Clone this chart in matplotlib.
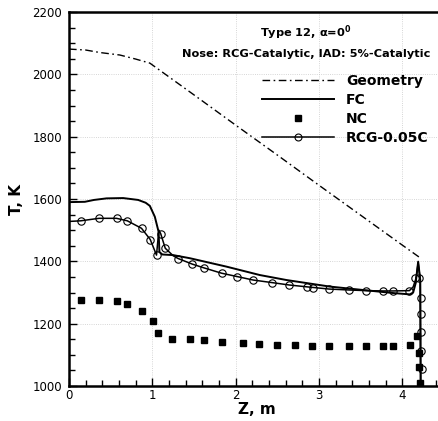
import matplotlib
matplotlib.use("Agg")
import matplotlib.pyplot as plt
from matplotlib.ticker import MultipleLocator
from matplotlib.lines import Line2D

# ---------------- data ----------------
geom_z = [0.0, 0.2, 0.37, 0.61, 0.8, 0.97, 1.5, 2.0, 2.5, 3.0, 3.5, 4.0, 4.21]
geom_T = [2081, 2078, 2070, 2062, 2049, 2036, 1934, 1837, 1741, 1644, 1548, 1452, 1412]

fc_z = [0.0, 0.19, 0.3, 0.45, 0.65, 0.83, 0.92, 0.97, 1.03, 1.06, 1.075, 1.085,
        1.12, 1.25, 1.45, 1.89, 2.29, 2.61, 3.13, 3.53, 3.9, 4.09, 4.13, 4.16,
        4.19, 4.215, 4.22]
fc_T = [1590, 1591, 1597, 1602, 1603, 1597, 1588, 1578, 1543, 1511, 1495, 1430,
        1422, 1420, 1410, 1383, 1356, 1340, 1319, 1308, 1298, 1294, 1300, 1330,
        1399, 1340, 1000]

nc_z = [0.14, 0.36, 0.57, 0.70, 0.87, 1.01, 1.07, 1.24, 1.45, 1.62, 1.83, 2.09,
        2.28, 2.49, 2.71, 2.92, 3.125, 3.365, 3.57, 3.77, 3.89, 4.09, 4.17, 4.2,
        4.2, 4.21]
nc_T = [1276, 1276, 1274, 1263, 1242, 1210, 1170, 1152, 1152, 1149, 1141, 1138,
        1135, 1132, 1132, 1128, 1128, 1128, 1128, 1128, 1128, 1132, 1160, 1107,
        1062, 1011]

rcg_line_z = [0.0, 0.14, 0.36, 0.57, 0.70, 0.87, 0.975, 1.05, 1.078, 1.10, 1.155,
              1.25, 1.31, 1.48, 1.62, 1.83, 2.02, 2.21, 2.43, 2.645, 2.86, 3.125,
              3.365, 3.57, 3.77, 3.89, 4.085, 4.13, 4.165, 4.19, 4.215, 4.22]
rcg_line_T = [1528, 1530, 1538, 1538, 1530, 1506, 1470, 1420, 1500, 1489, 1442,
              1418, 1409, 1391, 1379, 1362, 1351, 1340, 1332, 1324, 1318, 1311,
              1308, 1306, 1305, 1305, 1306, 1318, 1346, 1395, 1340, 1000]

rcg_mark_z = [0.14, 0.36, 0.57, 0.70, 0.87, 0.975, 1.05, 1.10, 1.155, 1.31, 1.48,
              1.62, 1.83, 2.02, 2.21, 2.43, 2.645, 2.86, 2.93, 3.125, 3.365, 3.57,
              3.77, 3.89, 4.085, 4.15, 4.20, 4.22, 4.22, 4.225, 4.225, 4.23]
rcg_mark_T = [1530, 1538, 1538, 1530, 1506, 1470, 1420, 1489, 1442, 1409, 1391,
              1379, 1362, 1351, 1340, 1332, 1324, 1318, 1316, 1311, 1308, 1306,
              1305, 1305, 1306, 1346, 1346, 1281, 1231, 1172, 1113, 1053]

x_ticks = [0, 1, 2, 3, 4]
y_ticks = [1000, 1200, 1400, 1600, 1800, 2000, 2200]
labels = ["Geometry", "FC", "NC", "RCG-0.05C"]

# ---------------- figure ----------------
W, H = 439, 421
fig = plt.figure(figsize=(W / 100, H / 100), dpi=100)
ax = fig.add_axes([69 / W, 35 / H, 375 / W, 374 / H])

geo_ls = (0, (5.5, 2.5, 1.2, 2.5))
ax.plot(geom_z, geom_T, color="black", lw=1.0, ls=geo_ls)
ax.plot(fc_z, fc_T, color="black", lw=1.4)
ax.plot(nc_z, nc_T, ls="none", marker="s", ms=4.4, color="black")
ax.plot(rcg_line_z, rcg_line_T, color="black", lw=1.1)
ax.plot(rcg_mark_z, rcg_mark_T, ls="none", marker="o", ms=5.3, mfc="none",
        mec="black", mew=0.8)

ax.set_xlim(0, 4.5)
ax.set_ylim(1000, 2200)
ax.set_xticks(x_ticks)
ax.set_yticks(y_ticks)
ax.xaxis.set_minor_locator(MultipleLocator(0.2))
ax.yaxis.set_minor_locator(MultipleLocator(50))
ax.tick_params(which="both", direction="in", top=False, right=False,
               labelsize=8.5, width=1.0)
ax.tick_params(which="major", length=6)
ax.tick_params(which="minor", length=4)
ax.tick_params(axis="x", pad=2)
ax.tick_params(axis="y", pad=5)
ax.grid(True, which="major", ls=":", color="#c8c8c8", lw=0.6)
for s in ["left", "bottom", "top"]:
    ax.spines[s].set_linewidth(1.8)
ax.spines["right"].set_visible(False)

ax.set_xlabel("Z, m", fontsize=11, fontweight="bold", labelpad=0)
ax.set_ylabel("T, K", fontsize=11, fontweight="bold", labelpad=6)

fig.text(306 / W, 1 - 33 / H, "Type 12, α=0$^\\mathbf{0}$", ha="center",
         va="center", fontsize=8.2, fontweight="bold")
fig.text(306 / W, 1 - 54 / H, "Nose: RCG-Catalytic, IAD: 5%-Catalytic",
         ha="center", va="center", fontsize=8.2, fontweight="bold")

handles = [
    Line2D([], [], color="black", lw=1.0, ls=geo_ls),
    Line2D([], [], color="black", lw=1.4),
    Line2D([], [], color="black", ls="none", marker="s", ms=4.4),
    Line2D([], [], color="black", lw=1.1, marker="o", ms=5.0, mfc="none", mew=0.8),
]
leg = ax.legend(handles, labels, loc="upper left",
                bbox_to_anchor=(262 / W, 1 - 74 / H), bbox_transform=fig.transFigure,
                frameon=False, prop={"size": 10, "weight": "bold"},
                handlelength=5.2, handletextpad=0.85, labelspacing=0.36,
                borderpad=0, borderaxespad=0, numpoints=1)

fig.savefig("out.png", dpi=100)
